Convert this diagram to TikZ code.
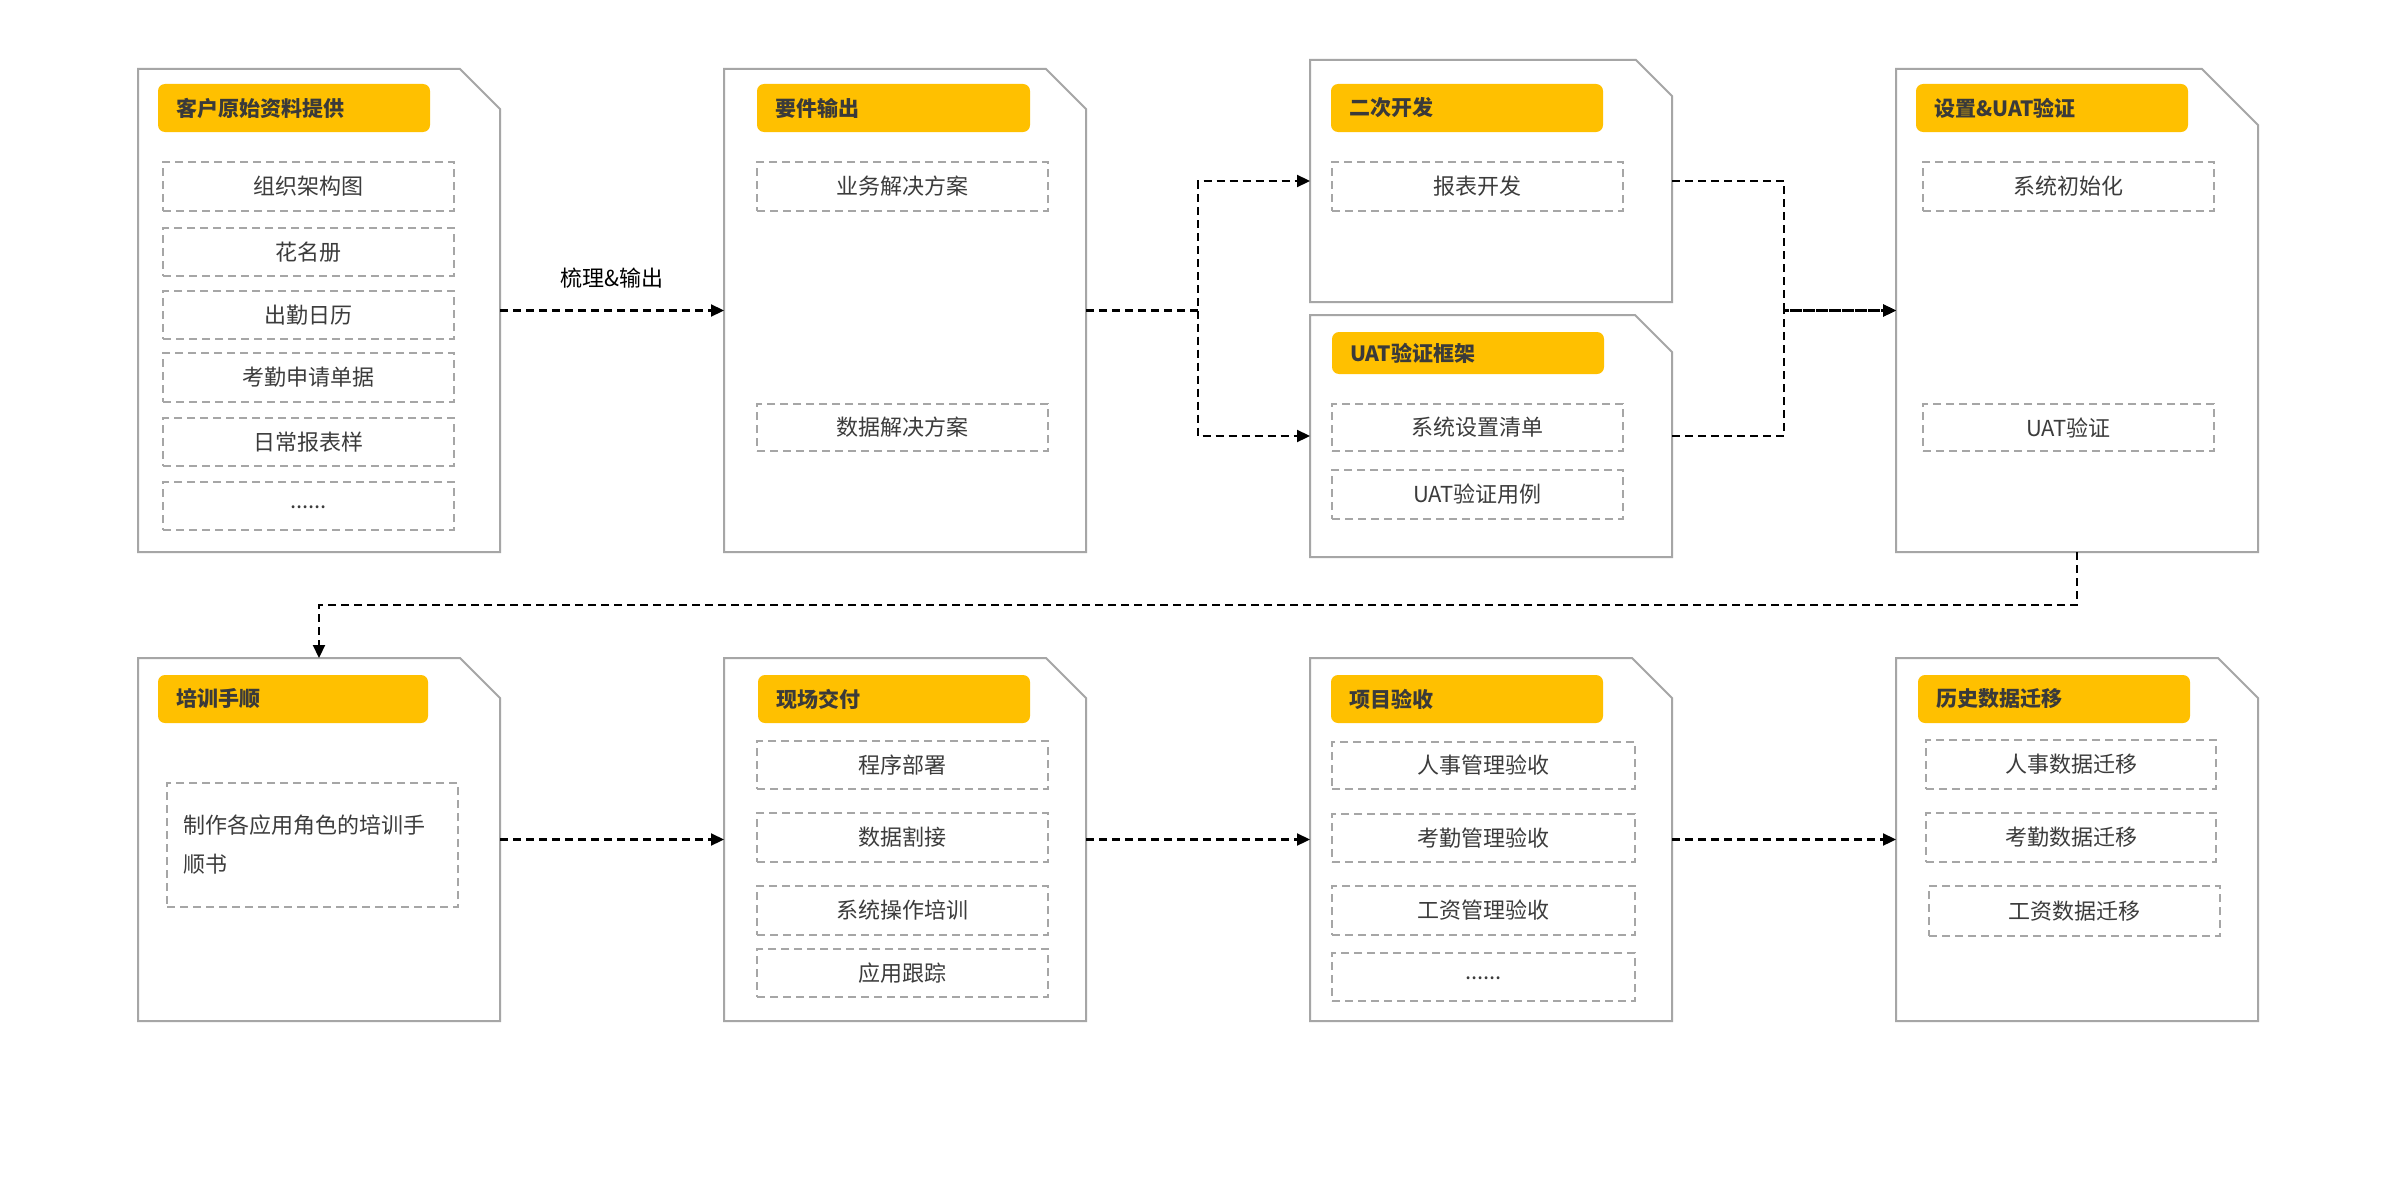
\documentclass[tikz,border=0pt]{standalone}
\usepackage{fontspec}
\setmainfont{Noto Sans CJK SC}
\usetikzlibrary{arrows.meta,calc}
\definecolor{frameg}{HTML}{A6A6A6}
\definecolor{hdryel}{HTML}{FFC000}
\definecolor{hdrtxt}{HTML}{3A3A3A}
\definecolor{bodytxt}{HTML}{3C3C3C}
\tikzset{
  docbox/.style={draw=none, inner sep=0pt, outer sep=0pt},
  docline/.style={draw=frameg, line width=2pt, line join=miter},
  hdr/.style={fill=hdryel, rounded corners=7pt, anchor=north west, inner xsep=18pt, inner ysep=0pt, outer sep=0pt, align=left, text=hdrtxt, font=\fontsize{21}{25}\selectfont\bfseries},
  ibox/.style={draw=frameg, dash pattern=on 8pt off 5pt, line width=2pt, anchor=north west, inner sep=0pt, outer sep=0pt, text=bodytxt, font=\fontsize{22}{26}\selectfont},
  conn/.style={draw=black, line width=2.2pt, dash pattern=on 8pt off 5pt, -{Triangle[length=13pt,width=12pt]}},
  lbl/.style={text=black, font=\fontsize{22}{26}\selectfont, inner sep=0pt},
}
% document frame with folded corner
\newcommand\docnode[6]{%
  \node[docbox, minimum width={#4-#2}, minimum height={#5-#3}] (#1) at ({(#2+#4)/2},{(#3+#5)/2}) {};
  \draw[docline] (#1.south west) -- (#1.north west) -- ([xshift=-#6pt]#1.north east) -- ([yshift=-#6pt]#1.north east) -- (#1.south east) -- cycle;
}
\newcommand\hdrnode[6]{%
  \pgfmathsetmacro\hdrtw{#4-#2-36}%
  \node[hdr, minimum width={#4-#2}, minimum height={#5-#3}, text width=\hdrtw pt] (#1) at (#2,#3) {#6};
}
\newcommand\ibx[6]{%
  \node[ibox, minimum width={#4-#2}, minimum height={#5-#3}] (#1) at (#2,#3) {#6};
}
\newcommand\dotsrow{\raisebox{-5pt}{......}}
\begin{document}
\begin{tikzpicture}[x=1pt,y=-1pt]
\useasboundingbox[fill=white] (0,0) rectangle (2399,1199);
% ---- documents
\docnode{d1}{138}{69}{500}{552}{40}
\docnode{d2}{724}{69}{1086}{552}{40}
\docnode{d3}{1310}{60}{1672}{302}{36}
\docnode{d4}{1310}{315}{1672}{557}{37}
\docnode{d5}{1896}{69}{2258}{552}{56}
\docnode{d6}{138}{658}{500}{1021}{40}
\docnode{d7}{724}{658}{1086}{1021}{40}
\docnode{d8}{1310}{658}{1672}{1021}{40}
\docnode{d9}{1896}{658}{2258}{1021}{40}
% ---- headers
\hdrnode{h1}{158}{84}{430}{132}{客户原始资料提供}
\hdrnode{h2}{757}{84}{1030}{132}{要件输出}
\hdrnode{h3}{1331}{84}{1603}{132}{二次开发}
\hdrnode{h4}{1332}{332}{1604}{374}{UAT验证框架}
\hdrnode{h5}{1916}{84}{2188}{132}{设置\&UAT验证}
\hdrnode{h6}{158}{675}{428}{723}{培训手顺}
\hdrnode{h7}{758}{675}{1030}{723}{现场交付}
\hdrnode{h8}{1331}{675}{1603}{723}{项目验收}
\hdrnode{h9}{1918}{675}{2190}{723}{历史数据迁移}
% ---- items
\ibx{a1}{163}{162}{454}{211}{组织架构图}
\ibx{a2}{163}{228}{454}{276}{花名册}
\ibx{a3}{163}{291}{454}{339}{出勤日历}
\ibx{a4}{163}{353}{454}{402}{考勤申请单据}
\ibx{a5}{163}{418}{454}{466}{日常报表样}
\ibx{a6}{163}{482}{454}{530}{\dotsrow}
\ibx{b1}{757}{162}{1048}{211}{业务解决方案}
\ibx{b2}{757}{404}{1048}{451}{数据解决方案}
\ibx{c1}{1332}{162}{1623}{211}{报表开发}
\ibx{e1}{1332}{404}{1623}{451}{系统设置清单}
\ibx{e2}{1332}{470}{1623}{519}{UAT验证用例}
\ibx{f1}{1923}{162}{2214}{211}{系统初始化}
\ibx{f2}{1923}{404}{2214}{451}{UAT验证}
\node[ibox, minimum width=291, minimum height=124, text width=259pt, inner xsep=16pt, align=left, font=\fontsize{22}{39}\selectfont] (g1) at (167,783) {制作各应用角色的培训手\\顺书};
\ibx{k1}{757}{741}{1048}{789}{程序部署}
\ibx{k2}{757}{813}{1048}{862}{数据割接}
\ibx{k3}{757}{886}{1048}{935}{系统操作培训}
\ibx{k4}{757}{949}{1048}{997}{应用跟踪}
\ibx{m1}{1332}{742}{1635}{789}{人事管理验收}
\ibx{m2}{1332}{814}{1635}{862}{考勤管理验收}
\ibx{m3}{1332}{886}{1635}{935}{工资管理验收}
\ibx{m4}{1332}{953}{1635}{1001}{\dotsrow}
\ibx{n1}{1926}{740}{2216}{789}{人事数据迁移}
\ibx{n2}{1926}{813}{2216}{862}{考勤数据迁移}
\ibx{n3}{1929}{886}{2220}{936}{工资数据迁移}
% ---- connectors
\draw[conn] (d1.east) -- node[lbl, midway, yshift=32pt] (l1) {梳理\&输出} (d2.west);
\draw[conn] (d2.east) -- ++(112,0) coordinate (j1) |- (d3.west);
\draw[conn] (j1) |- (d4.west);
\draw[conn] (d3.east) -- ++(112,0) |- (d5.west);
\draw[conn] (d4.east) -- ++(112,0) |- (d5.west);
\draw[conn] (d5.south) -- ++(0,53) -| (d6.north);
\draw[conn] (d6.east) -- (d7.west);
\draw[conn] (d7.east) -- (d8.west);
\draw[conn] (d8.east) -- (d9.west);
\end{tikzpicture}
\end{document}
